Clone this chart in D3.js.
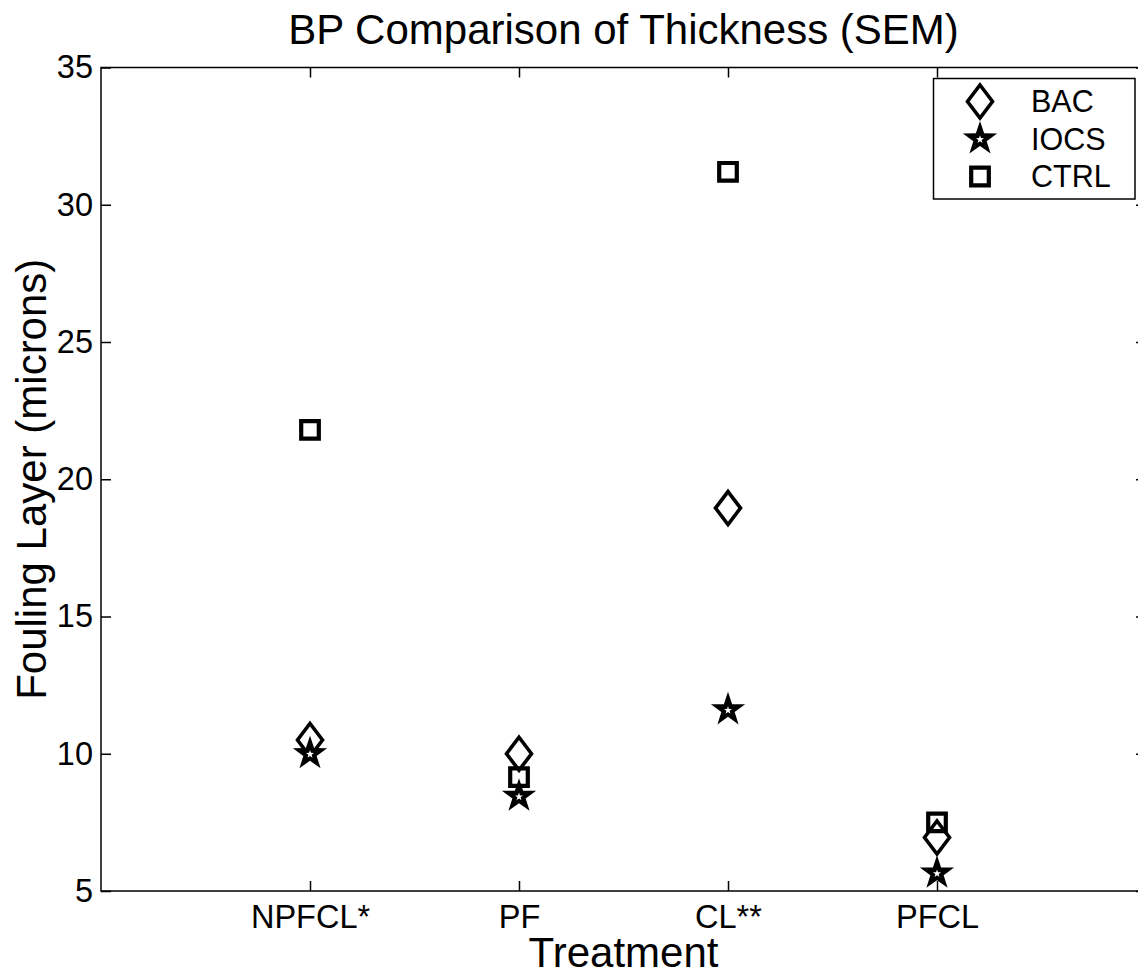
<!DOCTYPE html>
<html>
<head>
<meta charset="utf-8">
<script src="https://cdn.jsdelivr.net/npm/d3@7/dist/d3.min.js"></script>
<style>
  html, body { margin: 0; padding: 0; background: #fff; }
  svg { display: block; font-family: "Liberation Sans", Arial, Helvetica, sans-serif; }
</style>
</head>
<body>
<script>
const categories = ["NPFCL*", "PF", "CL**", "PFCL"];
const bac  = [10.5, 10.0, 18.95, 6.95];
const iocs = [10.0, 8.45, 11.6, 5.65];
const ctrl = [21.8, 9.15, 31.2, 7.5];
const yTicks = [5, 10, 15, 20, 25, 30, 35];
const seriesNames = ["BAC", "IOCS", "CTRL"];

(function () {
const W = 1138, H = 978;
const svg = d3.select("body").append("svg").attr("width", W).attr("height", H);

const pL = 101, pR = 1146, pT = 67.5, pB = 891;
const x = d3.scaleLinear().domain([0, 5]).range([pL, pR]);
const y = d3.scaleLinear().domain([5, 35]).range([pB, pT]);

// frame
svg.append("rect").attr("x", pL).attr("y", pT).attr("width", pR - pL).attr("height", pB - pT)
  .attr("fill", "none").attr("stroke", "#000").attr("stroke-width", 1.5);

const tickFont = 32.5;
const gy = svg.append("g").attr("transform", `translate(${pL},0)`)
  .call(d3.axisLeft(y).tickValues(yTicks).tickFormat(d3.format("d")).tickSizeInner(-10).tickSizeOuter(0).tickPadding(8));
const gyr = svg.append("g").attr("transform", `translate(${pR},0)`)
  .call(d3.axisRight(y).tickValues(yTicks).tickFormat("").tickSizeInner(-10).tickSizeOuter(0));
const gx = svg.append("g").attr("transform", `translate(0,${pB})`)
  .call(d3.axisBottom(x).tickValues([1, 2, 3, 4]).tickFormat((d) => categories[d - 1]).tickSizeInner(-10).tickSizeOuter(0).tickPadding(14));
const gxt = svg.append("g").attr("transform", `translate(0,${pT})`)
  .call(d3.axisTop(x).tickValues([1, 2, 3, 4]).tickFormat("").tickSizeInner(-10).tickSizeOuter(0));
[gy, gyr, gx, gxt].forEach(g => {
  g.select(".domain").remove();
  g.selectAll(".tick line").attr("stroke", "#000").attr("stroke-width", 1.5);
  g.selectAll("text").attr("fill", "#000").attr("font-size", tickFont).attr("font-family", null);
});

// title & labels
svg.append("text").attr("x", (pL + pR) / 2).attr("y", 44).attr("text-anchor", "middle")
  .attr("font-size", 42).text("BP Comparison of Thickness (SEM)");
svg.append("text").attr("x", (pL + pR) / 2).attr("y", 967).attr("text-anchor", "middle")
  .attr("font-size", 42).text("Treatment");
svg.append("text").attr("transform", `translate(46,${(pT + pB) / 2}) rotate(-90)`).attr("text-anchor", "middle")
  .attr("font-size", 42).text("Fouling Layer (microns)");

// marker shapes
function diamondPath(cx, cy) {
  const p = d3.path();
  p.moveTo(cx, cy - 16.5); p.lineTo(cx + 12.5, cy); p.lineTo(cx, cy + 16.5); p.lineTo(cx - 12.5, cy); p.closePath();
  return p.toString();
}
function squarePath(cx, cy) {
  const s = 8.8;
  const p = d3.path();
  p.rect(cx - s, cy - s, 2 * s, 2 * s);
  return p.toString();
}
function starPath(cx, cy, R, r) {
  const p = d3.path();
  for (let i = 0; i < 10; i++) {
    const a = -Math.PI / 2 + i * Math.PI / 5;
    const rad = i % 2 === 0 ? R : r;
    const px = cx + rad * Math.cos(a), py = cy + rad * Math.sin(a);
    if (i === 0) p.moveTo(px, py); else p.lineTo(px, py);
  }
  p.closePath();
  return p.toString();
}
function drawMarker(g, type, cx, cy) {
  if (type === "BAC") {
    g.append("path").attr("d", diamondPath(cx, cy)).attr("fill", "none").attr("stroke", "#000").attr("stroke-width", 3.6).attr("stroke-linejoin", "miter");
  } else if (type === "IOCS") {
    g.append("path").attr("d", starPath(cx, cy, 18, 7)).attr("fill", "#000");
    g.append("path").attr("d", starPath(cx, cy + 0.5, 4.2, 1.7)).attr("fill", "#fff");
  } else {
    g.append("path").attr("d", squarePath(cx, cy)).attr("fill", "none").attr("stroke", "#000").attr("stroke-width", 4.2).attr("stroke-linejoin", "miter");
  }
}

const marks = svg.append("g");
const seriesData = { BAC: bac, IOCS: iocs, CTRL: ctrl };
seriesNames.forEach(name => {
  seriesData[name].forEach((v, i) => drawMarker(marks, name, x(i + 1), y(v)));
});

// legend
const lg = svg.append("g");
lg.append("rect").attr("x", 933.5).attr("y", 78.5).attr("width", 201.5).attr("height", 120.5)
  .attr("fill", "#fff").attr("stroke", "#000").attr("stroke-width", 1.5);
const legY = [101.5, 139, 176.5];
seriesNames.forEach((name, i) => {
  drawMarker(lg, name, 980, legY[i]);
  lg.append("text").attr("x", 1031).attr("y", legY[i]).attr("dy", "0.36em").attr("font-size", 30.5).text(name);
});
})();
</script>
</body>
</html>
